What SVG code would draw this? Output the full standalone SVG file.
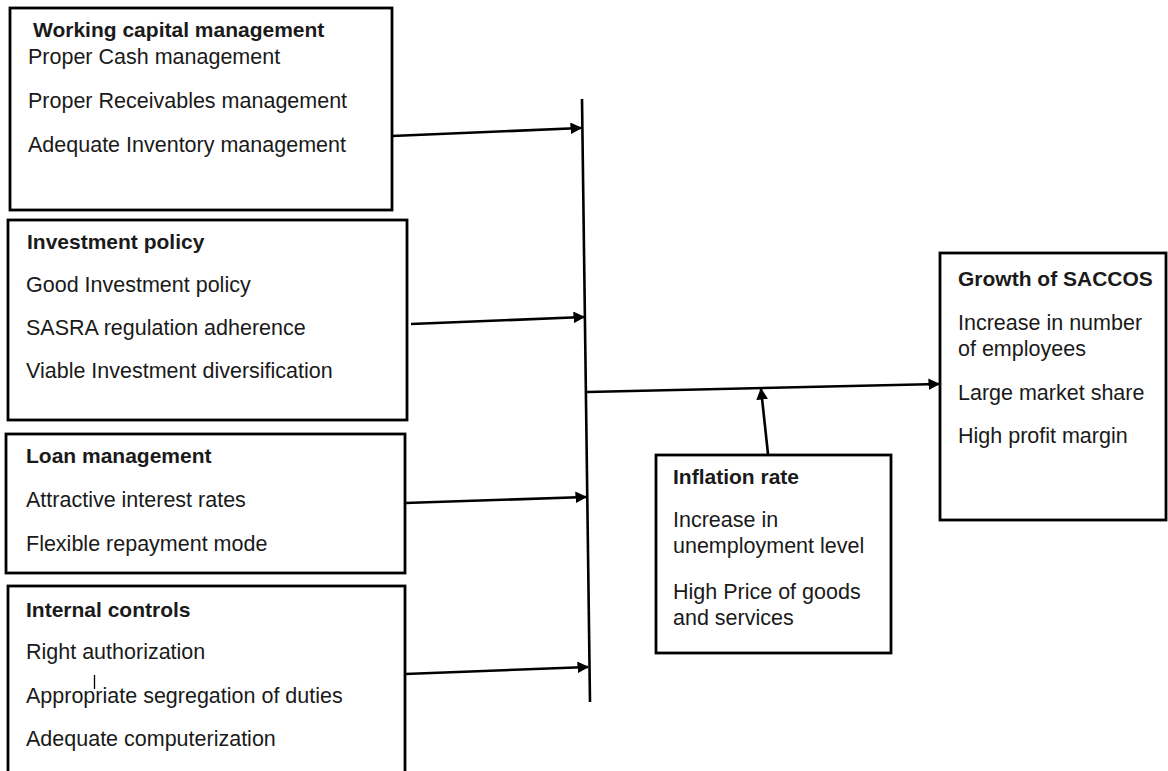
<svg xmlns="http://www.w3.org/2000/svg" width="1168" height="771" viewBox="0 0 1168 771">
<style>
.box{fill:#fff;stroke:#000;stroke-width:2.8}
.t{font-family:"Liberation Sans",Arial,sans-serif;font-size:21.5px;fill:#1a1a1a}
.b{font-weight:bold;font-size:21px}
.c{stroke:#000;stroke-width:2.6;fill:none}
</style>
<defs>
<marker id="ah" viewBox="0 0 10 10" refX="9" refY="5" markerWidth="4.5" markerHeight="4.5" orient="auto" markerUnits="strokeWidth">
<path d="M0,0 L10,5 L0,10 z" fill="#000"/>
</marker>
</defs>
<g id="working-capital">
<rect class="box" x="10" y="8" width="382" height="202"/>
<text class="t b" x="33" y="37">Working capital management</text>
<text class="t" x="28" y="64">Proper Cash management</text>
<text class="t" x="28" y="108">Proper Receivables management</text>
<text class="t" x="28" y="152">Adequate Inventory management</text>
</g>
<g id="investment-policy">
<rect class="box" x="8" y="220" width="399" height="200"/>
<text class="t b" x="27" y="249">Investment policy</text>
<text class="t" x="26" y="292">Good Investment policy</text>
<text class="t" x="26" y="335">SASRA regulation adherence</text>
<text class="t" x="26" y="378">Viable Investment diversification</text>
</g>
<g id="loan-management">
<rect class="box" x="6" y="434" width="399" height="139"/>
<text class="t b" x="26" y="463">Loan management</text>
<text class="t" x="26" y="507">Attractive interest rates</text>
<text class="t" x="26" y="551">Flexible repayment mode</text>
</g>
<g id="internal-controls">
<rect class="box" x="8" y="586" width="397" height="200"/>
<text class="t b" x="26" y="617">Internal controls</text>
<text class="t" x="26" y="659">Right authorization</text>
<text class="t" x="26" y="703">Appropriate segregation of duties</text>
<text class="t" x="26" y="746">Adequate computerization</text>
<line x1="94.5" y1="675" x2="94.5" y2="689" stroke="#000" stroke-width="1.3"/>
</g>
<g id="inflation-rate">
<rect class="box" x="656" y="455" width="235" height="198"/>
<text class="t b" x="673" y="484">Inflation rate</text>
<text class="t" x="673" y="527">Increase in</text>
<text class="t" x="673" y="553">unemployment level</text>
<text class="t" x="673" y="599">High Price of goods</text>
<text class="t" x="673" y="625">and services</text>
</g>
<g id="growth-saccos">
<rect class="box" x="940" y="253" width="226" height="267"/>
<text class="t b" x="958" y="286">Growth of SACCOS</text>
<text class="t" x="958" y="330">Increase in number</text>
<text class="t" x="958" y="356">of employees</text>
<text class="t" x="958" y="400">Large market share</text>
<text class="t" x="958" y="443">High profit margin</text>
</g>
<g id="connectors">
<line class="c" x1="582" y1="99" x2="590" y2="702"/>
<line class="c" x1="392" y1="136" x2="581" y2="128" marker-end="url(#ah)"/>
<line class="c" x1="411" y1="324" x2="584" y2="317" marker-end="url(#ah)"/>
<line class="c" x1="405" y1="503" x2="586" y2="497" marker-end="url(#ah)"/>
<line class="c" x1="405" y1="674" x2="588" y2="667" marker-end="url(#ah)"/>
<line class="c" x1="587" y1="392" x2="939" y2="384" marker-end="url(#ah)"/>
<line class="c" x1="768" y1="454" x2="761" y2="389" marker-end="url(#ah)"/>
</g>
</svg>
